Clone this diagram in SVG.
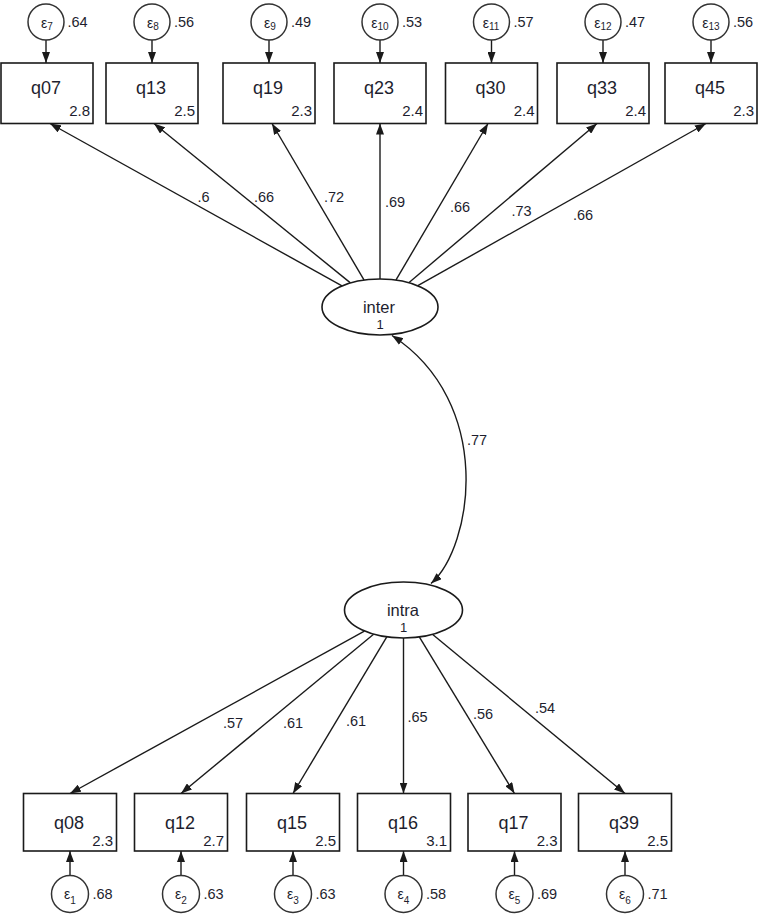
<svg xmlns="http://www.w3.org/2000/svg" width="759" height="916" viewBox="0 0 759 916">
<style>
.box{fill:#fff;stroke:#1a1a1a;stroke-width:1.6}
.err{fill:#fff;stroke:#333;stroke-width:1.5}
.lat{fill:#fff;stroke:#1a1a1a;stroke-width:1.6}
.ln{fill:none;stroke:#1a1a1a;stroke-width:1.4;marker-end:url(#ah)}
.t{font-family:"Liberation Sans",Arial,sans-serif;fill:#1e1e2e}
.nm{font-size:18px;text-anchor:middle}
.val{font-size:15px;text-anchor:end}
.ld{font-size:14.5px;text-anchor:middle}
.ev{font-size:14.5px;text-anchor:start}
.eps{font-size:14px;text-anchor:middle}
.ln2{font-size:16.5px;text-anchor:middle}
.one{font-size:13px;text-anchor:middle}
</style>
<defs>
<marker id="ah" markerUnits="userSpaceOnUse" markerWidth="11" markerHeight="8" refX="11" refY="4" orient="auto-start-reverse">
<path d="M0,0 L11,4 L0,8 z" fill="#1a1a1a"/>
</marker>
</defs>

<g id="connectors">
<line class="ln" x1="46" y1="40" x2="46" y2="63"/>
<line class="ln" x1="152" y1="40" x2="152" y2="63"/>
<line class="ln" x1="269" y1="40" x2="269" y2="63"/>
<line class="ln" x1="380" y1="40" x2="380" y2="63"/>
<line class="ln" x1="491.5" y1="40" x2="491.5" y2="63"/>
<line class="ln" x1="603" y1="40" x2="603" y2="63"/>
<line class="ln" x1="711" y1="40" x2="711" y2="63"/>
<line class="ln" x1="342" y1="285.9" x2="50" y2="123.5"/>
<line class="ln" x1="350.4" y1="282.9" x2="154" y2="123.5"/>
<line class="ln" x1="364.1" y1="280.1" x2="272" y2="123.5"/>
<line class="ln" x1="380" y1="279" x2="380" y2="123.5"/>
<line class="ln" x1="395.9" y1="280.1" x2="488" y2="123.5"/>
<line class="ln" x1="408.8" y1="282.7" x2="597" y2="123.5"/>
<line class="ln" x1="417.8" y1="285.7" x2="706" y2="123.5"/>
<path class="ln" style="marker-start:url(#ah)" d="M392,335.5 C495,403 473,546 431,583.5"/>
<line class="ln" x1="364.4" y1="631.2" x2="70" y2="793.5"/>
<line class="ln" x1="373.6" y1="634.3" x2="181" y2="793.5"/>
<line class="ln" x1="386.8" y1="636.9" x2="293" y2="793.5"/>
<line class="ln" x1="403.5" y1="638" x2="403.5" y2="793.5"/>
<line class="ln" x1="419.3" y1="636.9" x2="514.5" y2="793.5"/>
<line class="ln" x1="432.4" y1="634.3" x2="625" y2="793.5"/>
<line class="ln" x1="70" y1="875.5" x2="70" y2="851"/>
<line class="ln" x1="181" y1="875.5" x2="181" y2="851"/>
<line class="ln" x1="293" y1="875.5" x2="293" y2="851"/>
<line class="ln" x1="403.5" y1="875.5" x2="403.5" y2="851"/>
<line class="ln" x1="514.5" y1="875.5" x2="514.5" y2="851"/>
<line class="ln" x1="625" y1="875.5" x2="625" y2="851"/>
</g>

<g id="labels" class="t">
<text class="ld" x="203.5" y="202">.6</text>
<text class="ld" x="264" y="202">.66</text>
<text class="ld" x="334" y="202">.72</text>
<text class="ld" x="395" y="207">.69</text>
<text class="ld" x="460" y="212">.66</text>
<text class="ld" x="521.5" y="216">.73</text>
<text class="ld" x="583" y="220">.66</text>
<text class="ld" x="477" y="445">.77</text>
<text class="ld" x="233" y="727.5">.57</text>
<text class="ld" x="293" y="727.5">.61</text>
<text class="ld" x="356" y="725.5">.61</text>
<text class="ld" x="417.5" y="721.5">.65</text>
<text class="ld" x="483" y="718.5">.56</text>
<text class="ld" x="545" y="712.5">.54</text>
</g>

<g id="inter">
<ellipse class="lat" cx="380" cy="307" rx="58" ry="28"/>
<text class="t ln2" x="379" y="313">inter</text>
<text class="t one" x="380" y="329">1</text>
</g>
<g id="intra">
<ellipse class="lat" cx="403.5" cy="610" rx="59" ry="28"/>
<text class="t ln2" x="403" y="615.5">intra</text>
<text class="t one" x="403.5" y="631.5">1</text>
</g>

<g id="e7"><circle class="err" cx="46" cy="22" r="18"/><text class="t eps" x="47" y="28">ε<tspan font-size="10" dy="2">7</tspan></text><text class="t ev" x="67.5" y="26.5">.64</text></g>
<g id="e8"><circle class="err" cx="152" cy="22" r="18"/><text class="t eps" x="153" y="28">ε<tspan font-size="10" dy="2">8</tspan></text><text class="t ev" x="174" y="26.5">.56</text></g>
<g id="e9"><circle class="err" cx="269" cy="22" r="18"/><text class="t eps" x="270" y="28">ε<tspan font-size="10" dy="2">9</tspan></text><text class="t ev" x="291" y="26.5">.49</text></g>
<g id="e10"><circle class="err" cx="380" cy="22" r="18"/><text class="t eps" x="380" y="28">ε<tspan font-size="10" dy="2">10</tspan></text><text class="t ev" x="402" y="26.5">.53</text></g>
<g id="e11"><circle class="err" cx="491.5" cy="22" r="18"/><text class="t eps" x="491" y="28">ε<tspan font-size="10" dy="2">11</tspan></text><text class="t ev" x="513.5" y="26.5">.57</text></g>
<g id="e12"><circle class="err" cx="603" cy="22" r="18"/><text class="t eps" x="603" y="28">ε<tspan font-size="10" dy="2">12</tspan></text><text class="t ev" x="625" y="26.5">.47</text></g>
<g id="e13"><circle class="err" cx="711" cy="22" r="18"/><text class="t eps" x="711" y="28">ε<tspan font-size="10" dy="2">13</tspan></text><text class="t ev" x="733" y="26.5">.56</text></g>

<g id="q07"><rect class="box" x="1" y="63" width="92" height="60.5"/><text class="t nm" x="46" y="94">q07</text><text class="t val" x="90" y="115.5">2.8</text></g>
<g id="q13"><rect class="box" x="106" y="63" width="92" height="60.5"/><text class="t nm" x="151" y="94">q13</text><text class="t val" x="195" y="115.5">2.5</text></g>
<g id="q19"><rect class="box" x="223" y="63" width="92" height="60.5"/><text class="t nm" x="268" y="94">q19</text><text class="t val" x="312" y="115.5">2.3</text></g>
<g id="q23"><rect class="box" x="334" y="63" width="92" height="60.5"/><text class="t nm" x="379" y="94">q23</text><text class="t val" x="423" y="115.5">2.4</text></g>
<g id="q30"><rect class="box" x="445.5" y="63" width="92" height="60.5"/><text class="t nm" x="490.5" y="94">q30</text><text class="t val" x="534.5" y="115.5">2.4</text></g>
<g id="q33"><rect class="box" x="557" y="63" width="92" height="60.5"/><text class="t nm" x="602" y="94">q33</text><text class="t val" x="646" y="115.5">2.4</text></g>
<g id="q45"><rect class="box" x="665" y="63" width="92" height="60.5"/><text class="t nm" x="710" y="94">q45</text><text class="t val" x="754" y="115.5">2.3</text></g>

<g id="q08"><rect class="box" x="23.5" y="793.5" width="93" height="57.5"/><text class="t nm" x="69" y="829">q08</text><text class="t val" x="113" y="845.5">2.3</text></g>
<g id="q12"><rect class="box" x="134.5" y="793.5" width="93" height="57.5"/><text class="t nm" x="180" y="829">q12</text><text class="t val" x="224" y="845.5">2.7</text></g>
<g id="q15"><rect class="box" x="246.5" y="793.5" width="93" height="57.5"/><text class="t nm" x="292" y="829">q15</text><text class="t val" x="336" y="845.5">2.5</text></g>
<g id="q16"><rect class="box" x="357.5" y="793.5" width="93" height="57.5"/><text class="t nm" x="403" y="829">q16</text><text class="t val" x="447" y="845.5">3.1</text></g>
<g id="q17"><rect class="box" x="468" y="793.5" width="93" height="57.5"/><text class="t nm" x="513.5" y="829">q17</text><text class="t val" x="557.5" y="845.5">2.3</text></g>
<g id="q39"><rect class="box" x="578.5" y="793.5" width="93" height="57.5"/><text class="t nm" x="624" y="829">q39</text><text class="t val" x="668" y="845.5">2.5</text></g>

<g id="e1"><circle class="err" cx="70" cy="894" r="18.5"/><text class="t eps" x="70" y="899">ε<tspan font-size="10" dy="4.5">1</tspan></text><text class="t ev" x="92.5" y="899">.68</text></g>
<g id="e2"><circle class="err" cx="181" cy="894" r="18.5"/><text class="t eps" x="181" y="899">ε<tspan font-size="10" dy="4.5">2</tspan></text><text class="t ev" x="203.5" y="899">.63</text></g>
<g id="e3"><circle class="err" cx="293" cy="894" r="18.5"/><text class="t eps" x="293" y="899">ε<tspan font-size="10" dy="4.5">3</tspan></text><text class="t ev" x="315.5" y="899">.63</text></g>
<g id="e4"><circle class="err" cx="403.5" cy="894" r="18.5"/><text class="t eps" x="403.5" y="899">ε<tspan font-size="10" dy="4.5">4</tspan></text><text class="t ev" x="426" y="899">.58</text></g>
<g id="e5"><circle class="err" cx="514.5" cy="894" r="18.5"/><text class="t eps" x="514.5" y="899">ε<tspan font-size="10" dy="4.5">5</tspan></text><text class="t ev" x="537" y="899">.69</text></g>
<g id="e6"><circle class="err" cx="625" cy="894" r="18.5"/><text class="t eps" x="625" y="899">ε<tspan font-size="10" dy="4.5">6</tspan></text><text class="t ev" x="647.5" y="899">.71</text></g>
</svg>
